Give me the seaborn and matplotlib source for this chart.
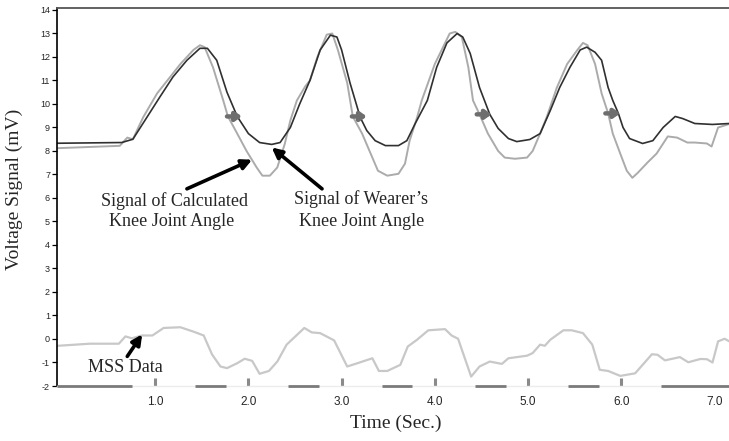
import numpy as np
import pandas as pd
import matplotlib
matplotlib.use("Agg")
import matplotlib.pyplot as plt
import seaborn as sns

# Signal of wearer's knee joint angle (dark line)
wearer_t = [-0.05, 0.64, 0.76, 0.91, 1.05, 1.19, 1.34, 1.48, 1.56, 1.66, 1.77, 1.88,
            2.00, 2.12, 2.25, 2.34, 2.45, 2.55, 2.66, 2.77, 2.88, 2.95, 3.00, 3.09,
            3.20, 3.27, 3.36, 3.47, 3.61, 3.70, 3.79, 3.92, 4.02, 4.13, 4.24, 4.30,
            4.38, 4.48, 4.59, 4.68, 4.79, 4.88, 5.02, 5.13, 5.24, 5.34, 5.45, 5.56,
            5.63, 5.72, 5.79, 5.86, 5.91, 5.97, 6.02, 6.09, 6.23, 6.34, 6.45, 6.58,
            6.66, 6.79, 6.98, 7.16]
wearer_v = [8.33, 8.36, 8.5, 9.43, 10.3, 11.15, 11.86, 12.37, 12.37, 11.86, 10.5, 9.47,
            8.74, 8.36, 8.28, 8.36, 9.0, 10.0, 11.0, 12.3, 12.93, 12.85, 12.3, 10.9,
            9.43, 8.87, 8.44, 8.23, 8.23, 8.44, 9.17, 10.15, 11.56, 12.6, 13.0, 12.85,
            12.15, 10.7, 9.56, 8.96, 8.53, 8.4, 8.49, 8.74, 9.73, 10.7, 11.56, 12.3,
            12.42, 12.2, 11.86, 10.7, 10.15, 9.6, 9.0, 8.53, 8.32, 8.44, 9.0, 9.47,
            9.38, 9.17, 9.13, 9.17]

# Signal of calculated knee joint angle (light line)
calc_t = [-0.05, 0.62, 0.70, 0.76, 0.87, 1.02, 1.13, 1.27, 1.41, 1.48, 1.53, 1.62,
          1.73, 1.78, 1.88, 1.98, 2.09, 2.15, 2.23, 2.31, 2.39, 2.45, 2.52, 2.61,
          2.66, 2.74, 2.84, 2.90, 2.96, 3.06, 3.12, 3.22, 3.33, 3.39, 3.49, 3.61,
          3.68, 3.73, 3.81, 3.86, 4.00, 4.16, 4.22, 4.29, 4.36, 4.41, 4.48, 4.57,
          4.68, 4.75, 4.86, 4.99, 5.05, 5.13, 5.20, 5.31, 5.42, 5.53, 5.59, 5.64,
          5.72, 5.79, 5.86, 5.91, 5.99, 6.06, 6.12, 6.18, 6.28, 6.38, 6.50, 6.60,
          6.71, 6.79, 6.92, 6.97, 7.04, 7.16]
calc_v = [8.12, 8.22, 8.57, 8.5, 9.43, 10.45, 11.0, 11.7, 12.3, 12.5, 12.42, 11.56,
          10.15, 9.47, 8.74, 8.0, 7.29, 6.95, 6.95, 7.3, 8.3, 9.3, 10.15, 10.75,
          11.0, 12.0, 12.95, 13.0, 12.3, 10.9, 9.47, 8.74, 7.72, 7.16, 6.95, 7.03,
          7.46, 8.44, 9.43, 10.15, 11.7, 13.0, 13.07, 12.85, 11.56, 10.15, 9.56, 8.74,
          8.0, 7.72, 7.67, 7.72, 8.0, 8.74, 9.43, 10.7, 11.7, 12.3, 12.6, 12.5,
          11.7, 10.45, 9.6, 8.74, 7.89, 7.16, 6.86, 7.08, 7.5, 7.89, 8.62, 8.57,
          8.36, 8.36, 8.32, 8.19, 9.0, 9.15]

# MSS data (bottom trace)
mss_t = [-0.05, 0.30, 0.61, 0.68, 0.75, 0.86, 0.97, 1.09, 1.27, 1.42, 1.52, 1.61,
         1.70, 1.77, 1.88, 1.96, 2.04, 2.12, 2.22, 2.31, 2.41, 2.60, 2.68, 2.77,
         2.92, 3.06, 3.17, 3.33, 3.40, 3.49, 3.63, 3.71, 3.81, 3.93, 4.11, 4.18,
         4.25, 4.39, 4.48, 4.59, 4.72, 4.79, 4.99, 5.05, 5.13, 5.18, 5.24, 5.38,
         5.47, 5.59, 5.69, 5.77, 5.86, 5.99, 6.15, 6.23, 6.33, 6.39, 6.47, 6.63,
         6.72, 6.85, 6.92, 6.98, 7.04, 7.11, 7.16]
mss_v = [-0.29, -0.2, -0.2, 0.11, 0.03, 0.15, 0.15, 0.47, 0.5, 0.3, 0.15, -0.66,
         -1.17, -1.24, -1.03, -0.84, -0.93, -1.48, -1.36, -0.96, -0.24, 0.47, 0.28, 0.25,
         -0.06, -1.17, -1.03, -0.82, -1.36, -1.36, -1.1, -0.32, -0.03, 0.37, 0.42, 0.15,
         0.01, -1.6, -1.17, -0.96, -1.06, -0.82, -0.71, -0.6, -0.24, -0.29, -0.03, 0.37,
         0.37, 0.25, -0.24, -1.31, -1.36, -1.57, -1.46, -1.1, -0.65, -0.67, -0.91, -0.77,
         -0.99, -0.85, -0.86, -1.0, -0.1, 0.01, -0.1]

# small grey direction markers
marker_t = [1.77, 3.11, 4.45, 5.83]
marker_v = [9.47, 9.47, 9.56, 9.6]
marker_len = 0.16

x_ticks = [1, 2, 3, 4, 5, 6, 7]
x_labels = ["1.0", "2.0", "3.0", "4.0", "5.0", "6.0", "7.0"]
y_ticks = list(range(-2, 15))

sns.set_style("white")
plt.rcParams["font.family"] = ["Liberation Sans", "DejaVu Sans"]
serif = ["Liberation Serif", "DejaVu Serif"]

wearer = pd.DataFrame({"t": wearer_t, "v": wearer_v})
calc = pd.DataFrame({"t": calc_t, "v": calc_v})
mss = pd.DataFrame({"t": mss_t, "v": mss_v})

fig = plt.figure(figsize=(7.29, 4.41), dpi=100)
ax = fig.add_axes([57 / 729, 55 / 441, 672 / 729, 378 / 441])

sns.lineplot(data=calc, x="t", y="v", ax=ax, color="#ababab", linewidth=1.4,
             sort=False, estimator=None)
sns.lineplot(data=wearer, x="t", y="v", ax=ax, color="#303030", linewidth=1.2,
             sort=False, estimator=None)
sns.lineplot(data=mss, x="t", y="v", ax=ax, color="#c8c8c8", linewidth=1.6,
             sort=False, estimator=None)

for t, v in zip(marker_t, marker_v):
    ax.annotate("", xy=(t + marker_len, v), xytext=(t, v),
                arrowprops=dict(arrowstyle="-|>,head_length=0.35,head_width=0.25",
                                color="#6e6e6e", lw=3.2, shrinkA=0, shrinkB=0))

ax.set_xlim(-0.054, 7.157)
ax.set_ylim(-2, 14.085)

ax.set_xticks(x_ticks)
ax.set_xticklabels(x_labels)
ax.set_yticks(y_ticks)
ax.set_yticklabels([str(y) for y in y_ticks])
ax.tick_params(axis="x", direction="in", length=5.5, width=2.2, color="#8a8a8a",
               labelsize=8.5, pad=7, bottom=True)
ax.tick_params(axis="y", direction="out", length=3.5, width=0.9, color="black",
               labelsize=6.5, pad=1.5, left=True)
ax.xaxis.get_major_ticks()[-1].tick1line.set_visible(False)

ax.spines["left"].set_color("black")
ax.spines["left"].set_linewidth(1.2)
ax.spines["top"].set_color("#555555")
ax.spines["top"].set_linewidth(1.3)
ax.spines["right"].set_visible(False)
ax.spines["bottom"].set_color("#ececec")
ax.spines["bottom"].set_linewidth(1.0)

# broken dark segments along the time axis
seg_starts = [-0.054] + [k + 0.43 for k in range(1, 7)]
seg_ends = [0.75] + [k + 0.76 for k in range(1, 6)] + [7.157]
ax.hlines([-2] * len(seg_starts), seg_starts, seg_ends, colors="#7a7a7a",
          linewidth=2.0, clip_on=False, zorder=3)

ax.set_xlabel("Time (Sec.)", family=serif, fontsize=14)
ax.xaxis.set_label_coords(0.504, -0.075)
ax.set_ylabel("Voltage Signal (mV)", family=serif, fontsize=14)
ax.yaxis.set_label_coords(-0.05, 0.52)

arrow_kw = dict(arrowstyle="-|>,head_length=0.6,head_width=0.3", color="black",
                lw=2.6, shrinkA=0, shrinkB=0)
ax.annotate("", xy=(2.04, 7.63), xytext=(1.34, 6.39), arrowprops=arrow_kw)
ax.annotate("", xy=(2.25, 8.15), xytext=(2.79, 6.39), arrowprops=arrow_kw)
ax.annotate("", xy=(0.86, 0.2), xytext=(0.70, -0.74), arrowprops=arrow_kw)

ax.text(1.21, 5.88, "Signal of Calculated", family=serif, fontsize=13,
        ha="center", va="center")
ax.text(1.18, 5.0, "Knee Joint Angle", family=serif, fontsize=13,
        ha="center", va="center")
ax.text(3.21, 5.95, "Signal of Wearer\u2019s", family=serif, fontsize=13,
        ha="center", va="center")
ax.text(3.21, 5.0, "Knee Joint Angle", family=serif, fontsize=13,
        ha="center", va="center")
ax.text(0.68, -1.22, "MSS Data", family=serif, fontsize=13, ha="center", va="center")

fig.savefig("out.png", dpi=100)
